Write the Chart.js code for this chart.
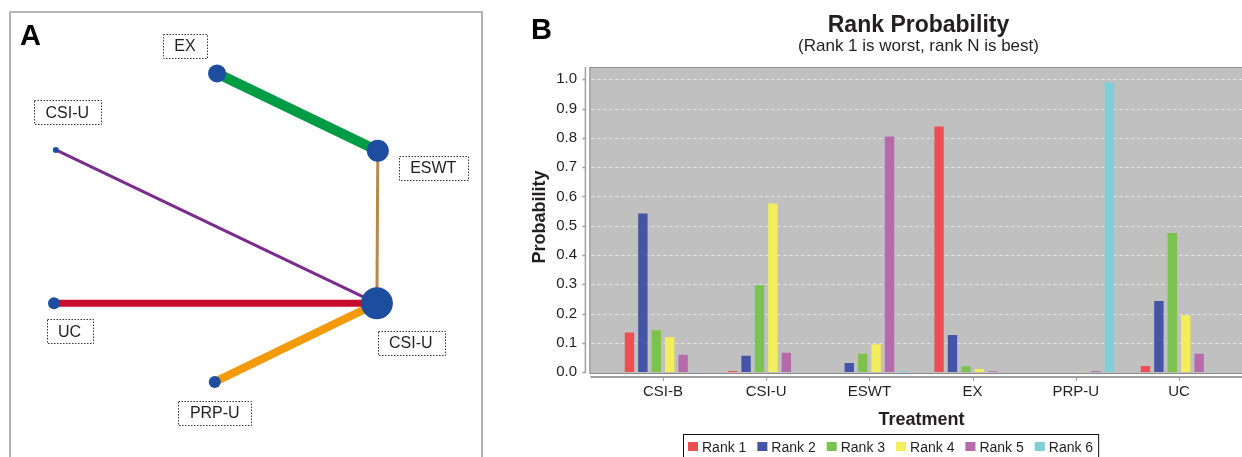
<!DOCTYPE html>
<html>
<head>
<meta charset="utf-8">
<title>Network plot and rank probability</title>
<script src="https://cdn.jsdelivr.net/npm/chart.js@4.4.1/dist/chart.umd.min.js"></script>
<style>
  html, body { margin: 0; padding: 0; background: #fff; }
  #wrap { position: relative; width: 1242px; height: 457px; overflow: hidden; }
  #network { position: absolute; left: 0; top: 0; }
  #ranks { position: absolute; left: 490px; top: 0; }
</style>
</head>
<body>
<div id="wrap">
  <canvas id="network" width="490" height="457"></canvas>
  <canvas id="ranks" width="752" height="457"></canvas>
</div>
<script>
// ---- panel A: treatment network (layout units 0-100) ----
const nodeNames = ['EX', 'ESWT', 'CSI-U', 'UC', 'CSI-U', 'PRP-U'];
const nodeX = [43.9, 79.0, 8.7, 8.3, 78.8, 43.4];
const nodeY = [86.5, 68.3, 68.5, 32.4, 32.4, 13.9];
const nodeSize = [9, 11, 3, 6, 16, 6];
const labelX = [36.9, 91.1, 11.2, 11.7, 86.2, 43.4];
const labelY = [93.0, 64.3, 77.3, 25.8, 23.1, 6.7];

const edgeFrom = [0, 1, 2, 3, 5];
const edgeTo = [1, 4, 4, 4, 4];
const edgeWeight = [10, 3, 3, 7, 8];
const edgeColors = ['#009b45', '#b9864c', '#7b2d8e', '#c70d2b', '#f29a09'];

// ---- panel B: rank probability ----
const treatments = ['CSI-B', 'CSI-U', 'ESWT', 'EX', 'PRP-U', 'UC'];
const rankLabels = ['Rank 1', 'Rank 2', 'Rank 3', 'Rank 4', 'Rank 5', 'Rank 6'];
const rank1 = [0.135, 0.004, 0.000, 0.839, 0.000, 0.021];
const rank2 = [0.542, 0.056, 0.031, 0.127, 0.000, 0.243];
const rank3 = [0.143, 0.297, 0.063, 0.020, 0.000, 0.475];
const rank4 = [0.119, 0.576, 0.095, 0.011, 0.001, 0.194];
const rank5 = [0.059, 0.066, 0.805, 0.003, 0.004, 0.063];
const rank6 = [0.001, 0.000, 0.004, 0.000, 0.990, 0.001];
const rankColors = ['#ec5052', '#4455a8', '#7cc24e', '#f2ee5c', '#b66aab', '#7fcfd9'];
const yTicks = [0, 0.1, 0.2, 0.3, 0.4, 0.5, 0.6, 0.7, 0.8, 0.9, 1.0];

const FONT = '"Liberation Sans", Arial, Helvetica, sans-serif';
const INK = '#231f20';

// frame, panel letter and dotted name boxes of the network
const networkDeco = {
  id: 'networkDeco',
  beforeDraw(chart) {
    const ctx = chart.ctx;
    ctx.save();
    ctx.strokeStyle = '#b4b4b4';
    ctx.lineWidth = 2;
    ctx.strokeRect(10, 12, 472, 470);
    ctx.fillStyle = '#000';
    ctx.font = 'bold 29px ' + FONT;
    ctx.textBaseline = 'alphabetic';
    ctx.fillText('A', 20, 45);
    ctx.restore();
  },
  afterDatasetsDraw(chart) {
    const { ctx, scales: { x, y } } = chart;
    ctx.save();
    ctx.font = '16px ' + FONT;
    ctx.textAlign = 'center';
    ctx.textBaseline = 'middle';
    nodeNames.forEach((name, i) => {
      const cx = x.getPixelForValue(labelX[i]);
      const cy = y.getPixelForValue(labelY[i]);
      const w = ctx.measureText(name).width + 23;
      const h = 24;
      ctx.setLineDash([1.5, 1.5]);
      ctx.strokeStyle = '#333';
      ctx.lineWidth = 1;
      ctx.strokeRect(Math.round(cx - w / 2) + 0.5, Math.round(cy - h / 2) + 0.5, Math.round(w), h);
      ctx.setLineDash([]);
      ctx.fillStyle = INK;
      ctx.fillText(name, cx, cy + 1);
    });
    ctx.restore();
  }
};

const nodePoints = nodeX.map((v, i) => ({ x: v, y: nodeY[i] }));
const edgeSets = edgeFrom.map((f, i) => ({
  type: 'line',
  data: [nodePoints[f], nodePoints[edgeTo[i]]],
  borderColor: edgeColors[i],
  borderWidth: edgeWeight[i],
  pointRadius: 0,
  showLine: true,
  fill: false,
  clip: false,
  order: 2
}));

new Chart(document.getElementById('network'), {
  type: 'scatter',
  data: {
    datasets: [...edgeSets, {
      data: nodePoints,
      pointRadius: nodeSize,
      pointHoverRadius: nodeSize,
      backgroundColor: '#1d4d9e',
      borderWidth: 0,
      clip: false,
      order: 1
    }]
  },
  options: {
    responsive: false,
    animation: false,
    events: [],
    layout: { padding: { left: 10, top: 12, right: 8, bottom: 0 } },
    scales: {
      x: { display: false, min: 0, max: 100 },
      y: { display: false, min: 0, max: 100 }
    },
    plugins: { legend: { display: false }, tooltip: { enabled: false } }
  },
  plugins: [networkDeco]
});

// grey plot box, axes, titles and legend of the bar chart
const rankFrame = {
  id: 'rankFrame',
  beforeDraw(chart) {
    const { ctx, chartArea: a, scales: { y } } = chart;
    const left = a.left - 22, right = chart.width;
    ctx.save();
    ctx.fillStyle = '#c0c0c0';
    ctx.fillRect(left, a.top, right - left, a.bottom - a.top);
    ctx.strokeStyle = '#e6e6e6';
    ctx.lineWidth = 1;
    ctx.setLineDash([3, 3]);
    yTicks.forEach(v => {
      if (v === 0) return;
      const py = Math.round(y.getPixelForValue(v)) + 0.5;
      ctx.beginPath();
      ctx.moveTo(left + 2, py);
      ctx.lineTo(right, py);
      ctx.stroke();
    });
    ctx.setLineDash([]);
    ctx.strokeStyle = '#8c8c8c';
    ctx.lineWidth = 1;
    ctx.strokeRect(left + 0.5, a.top + 0.5, right - left + 5, a.bottom - a.top);
    ctx.restore();
  },
  afterDraw(chart) {
    const { ctx, chartArea: a, scales: { x, y } } = chart;
    ctx.save();
    // axis lines and tick marks
    ctx.strokeStyle = '#a0a0a0';
    ctx.lineWidth = 1.5;
    const ax = a.left - 26;
    ctx.beginPath();
    ctx.moveTo(ax, a.top);
    ctx.lineTo(ax, a.bottom);
    yTicks.forEach(v => {
      const py = Math.round(y.getPixelForValue(v)) + 0.5;
      ctx.moveTo(ax - 3, py);
      ctx.lineTo(ax, py);
    });
    ctx.stroke();
    ctx.lineWidth = 2;
    ctx.beginPath();
    ctx.moveTo(a.left - 21, a.bottom + 4);
    ctx.lineTo(chart.width, a.bottom + 4);
    ctx.stroke();
    ctx.lineWidth = 1;
    ctx.beginPath();
    treatments.forEach((t, i) => {
      const px = Math.round(x.getPixelForTick(i)) + 0.5;
      ctx.moveTo(px, a.bottom + 5);
      ctx.lineTo(px, a.bottom + 8);
    });
    ctx.stroke();

    // titles
    ctx.fillStyle = '#000';
    ctx.font = 'bold 29px ' + FONT;
    ctx.textAlign = 'left';
    ctx.textBaseline = 'alphabetic';
    ctx.fillText('B', 41, 39);
    ctx.fillStyle = INK;
    ctx.textAlign = 'center';
    ctx.font = 'bold 23px ' + FONT;
    ctx.fillText('Rank Probability', 428.5, 32);
    ctx.font = '17px ' + FONT;
    ctx.fillText('(Rank 1 is worst, rank N is best)', 428.5, 51);
    ctx.font = 'bold 18px ' + FONT;
    ctx.fillText('Treatment', 431.5, 425);
    ctx.save();
    ctx.translate(55, (a.top + a.bottom) / 2 - 3);
    ctx.rotate(-Math.PI / 2);
    ctx.fillText('Probability', 0, 0);
    ctx.restore();

    // legend
    ctx.font = '14px ' + FONT;
    ctx.textAlign = 'left';
    const widths = rankLabels.map(t => 14 + ctx.measureText(t).width);
    const total = widths.reduce((s, w) => s + w, 0) + 11 * (rankLabels.length - 1);
    const boxW = total + 10;
    const boxX = Math.round(400.5 - boxW / 2);
    ctx.strokeStyle = '#111';
    ctx.lineWidth = 1;
    ctx.strokeRect(boxX + 0.5, 434.5, boxW, 30);
    let lx = boxX + 5;
    rankLabels.forEach((t, i) => {
      ctx.fillStyle = rankColors[i];
      ctx.fillRect(lx, 442, 10, 9);
      ctx.fillStyle = INK;
      ctx.fillText(t, lx + 14, 452);
      lx += widths[i] + 11;
    });
    ctx.restore();
  }
};

const rankSeries = [rank1, rank2, rank3, rank4, rank5, rank6];

new Chart(document.getElementById('ranks'), {
  type: 'bar',
  data: {
    labels: treatments,
    datasets: rankSeries.map((d, i) => ({
      label: rankLabels[i],
      data: d,
      backgroundColor: rankColors[i],
      borderWidth: 0,
      categoryPercentage: 0.78,
      barPercentage: 0.7
    }))
  },
  options: {
    responsive: false,
    animation: false,
    events: [],
    layout: { padding: { left: 0, right: 11.4, top: 67, bottom: 0 } },
    plugins: { legend: { display: false }, tooltip: { enabled: false } },
    scales: {
      x: {
        grid: { display: false, drawTicks: false },
        border: { display: false },
        ticks: { padding: 10, autoSkip: false, maxRotation: 0, color: INK, font: { family: FONT, size: 15 } },
        afterFit(s) { s.height = 84; }
      },
      y: {
        min: -0.003,
        max: 1.042,
        grid: { display: false, drawTicks: false },
        border: { display: false },
        afterBuildTicks(s) { s.ticks = yTicks.map(v => ({ value: v })); },
        ticks: { padding: 34.4, color: INK, font: { family: FONT, size: 15 }, callback: v => Number(v).toFixed(1) },
        afterFit(s) { s.width = 121.4; }
      }
    }
  },
  plugins: [rankFrame]
});
</script>
</body>
</html>
